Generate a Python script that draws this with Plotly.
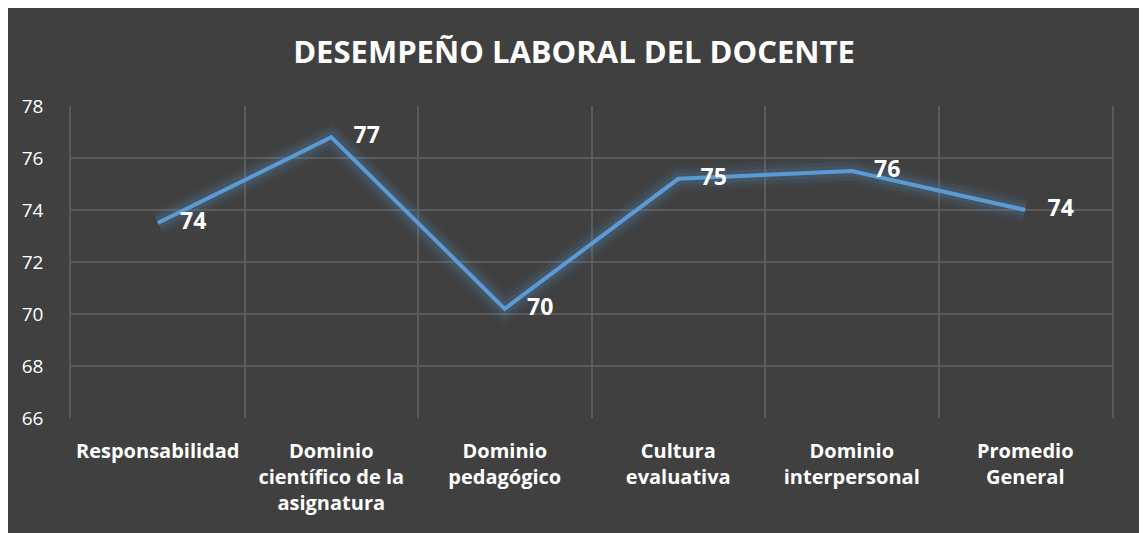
import plotly.graph_objects as go

categories = ["Responsabilidad", "Dominio<br>científico de la<br>asignatura", "Dominio<br>pedagógico",
              "Cultura<br>evaluativa", "Dominio<br>interpersonal", "Promedio<br>General"]
values = [73.5, 76.8, 70.2, 75.2, 75.5, 74.0]
labels = ["74", "77", "70", "75", "76", "74"]
y_ticks = [66, 68, 70, 72, 74, 76, 78]

LINE = "#5B9BD5"
fig = go.Figure()
# glow layers
for w, a in [(26, 0.05), (19, 0.08), (12, 0.12)]:
    fig.add_trace(go.Scatter(x=categories, y=values, mode="lines",
                             line=dict(color=f"rgba(91,155,213,{a})", width=w),
                             hoverinfo="skip", showlegend=False))
fig.add_trace(go.Scatter(x=categories, y=values, mode="lines+markers+text", text=labels,
                         textposition="middle right",
                         marker=dict(size=34, color="rgba(0,0,0,0)"),
                         textfont=dict(family="Open Sans", size=23, color="white", weight="bold"),
                         line=dict(color=LINE, width=4), showlegend=False, cliponaxis=False))

fig.update_layout(
    width=1132, height=526,
    paper_bgcolor="#404040", plot_bgcolor="#404040",
    margin=dict(l=63, r=28, t=98, b=116),
    title=dict(text="<b>DESEMPEÑO LABORAL DEL DOCENTE</b>", x=0.5, xanchor="center",
               y=1 - 44 / 526, yanchor="middle",
               font=dict(family="Open Sans", size=31, color="white")),
    font=dict(family="Open Sans", color="white"),
)
fig.update_xaxes(type="category", tickson="boundaries", range=[-0.5, 5.5],
                 showgrid=True, gridcolor="#5a5a5a",
                 gridwidth=1.5, ticks="", showline=False, zeroline=False,
                 tickfont=dict(family="Open Sans", size=20, color="white", weight="bold"),
                 ticklabelstandoff=19)
fig.update_yaxes(range=[66, 78], tickvals=y_ticks, showgrid=True, gridcolor="#5a5a5a",
                 gridwidth=1.5, zeroline=False, showline=True, mirror=True,
                 linecolor="#5a5a5a", linewidth=1.5, ticks="",
                 tickfont=dict(family="Open Sans", size=19, color="white"),
                 ticklabelstandoff=22)

fig.write_html("out.html")
